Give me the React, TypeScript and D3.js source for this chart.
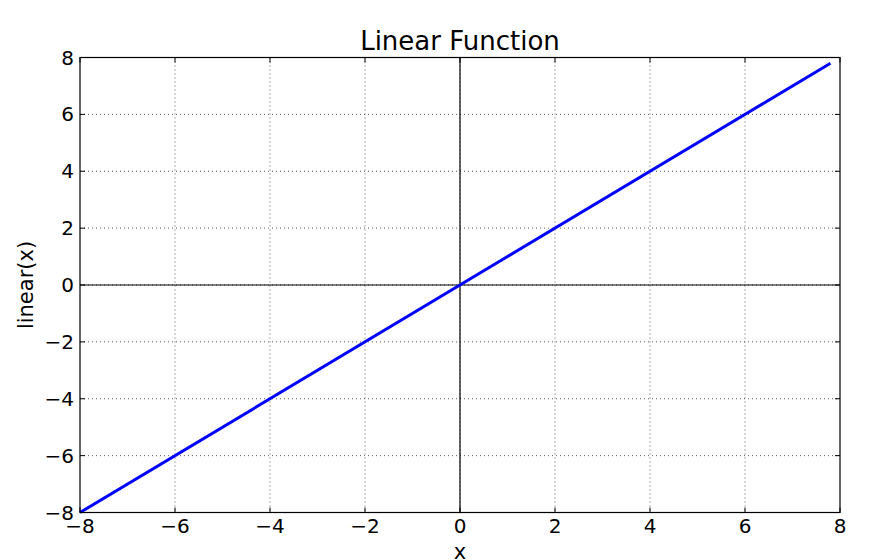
import React from "react";
import * as d3 from "d3";

const xData = [-8, 7.8];
const yData = [-8, 7.8];
const xTicks = [-8, -6, -4, -2, 0, 2, 4, 6, 8];
const yTicks = [-8, -6, -4, -2, 0, 2, 4, 6, 8];
const title = "Linear Function";
const xLabel = "x";
const yLabel = "linear(x)";

const W = 872, H = 560;
const L = 80, R = 840, T = 57.5, B = 512.5;
const FONT = "'DejaVu Sans', sans-serif";

export default function App() {
  const x = d3.scaleLinear().domain([-8, 8]).range([L, R]);
  const y = d3.scaleLinear().domain([-8, 8]).range([B, T]);
  const pts = xData.map((v, i) => [v, yData[i]] as [number, number]);
  const line = d3.line<[number, number]>().x(d => x(d[0])).y(d => y(d[1]));
  const fmt = (v: number) => (v < 0 ? "\u2212" + Math.abs(v) : String(v));
  return (
    <svg width={W} height={H} style={{ position: "absolute", left: 0, top: 0, background: "#fff" }}>
      <rect x={0} y={0} width={W} height={H} fill="#fff" />
      {xTicks.slice(1, -1).map(t => (
        <line key={"gx" + t} x1={x(t)} x2={x(t)} y1={T} y2={B} stroke="#333" strokeWidth={0.8} strokeDasharray="1,3" />
      ))}
      {yTicks.slice(1, -1).map(t => (
        <line key={"gy" + t} x1={L} x2={R} y1={y(t)} y2={y(t)} stroke="#333" strokeWidth={0.8} strokeDasharray="1,3" />
      ))}
      <line x1={x(0)} x2={x(0)} y1={T} y2={B} stroke="#000" strokeWidth={1.2} />
      <line x1={L} x2={R} y1={y(0)} y2={y(0)} stroke="#000" strokeWidth={1.2} />
      {xTicks.map(t => (
        <g key={"tx" + t}>
          <line x1={x(t)} x2={x(t)} y1={B} y2={B - 5} stroke="#000" strokeWidth={1} />
          <line x1={x(t)} x2={x(t)} y1={T} y2={T + 5} stroke="#000" strokeWidth={1} />
          <text x={x(t)} y={518} textAnchor="middle" dominantBaseline="hanging" fontFamily={FONT} fontSize={20}>{fmt(t)}</text>
        </g>
      ))}
      {yTicks.map(t => (
        <g key={"ty" + t}>
          <line x1={L} x2={L + 5} y1={y(t)} y2={y(t)} stroke="#000" strokeWidth={1} />
          <line x1={R} x2={R - 5} y1={y(t)} y2={y(t)} stroke="#000" strokeWidth={1} />
          <text x={74} y={y(t)} textAnchor="end" dominantBaseline="central" fontFamily={FONT} fontSize={20}>{fmt(t)}</text>
        </g>
      ))}
      <path d={line(pts) || ""} fill="none" stroke="#0000ff" strokeWidth={3} />
      <rect x={L} y={T} width={R - L} height={B - T} fill="none" stroke="#000" strokeWidth={1.2} />
      <text x={(L + R) / 2} y={50} textAnchor="middle" fontFamily={FONT} fontSize={26}>{title}</text>
      <text x={(L + R) / 2} y={559} textAnchor="middle" fontFamily={FONT} fontSize={21}>{xLabel}</text>
      <text transform={`translate(33, ${(T + B) / 2}) rotate(-90)`} textAnchor="middle" fontFamily={FONT} fontSize={21}>{yLabel}</text>
    </svg>
  );
}
